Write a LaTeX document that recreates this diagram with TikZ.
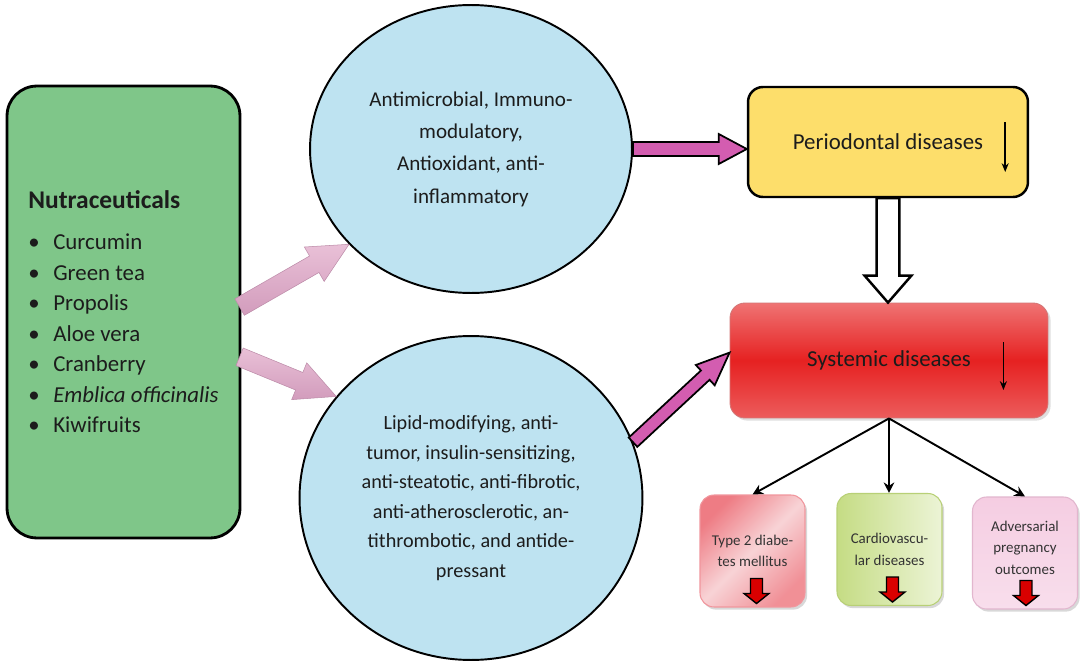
\documentclass[tikz,border=0pt]{standalone}
\usepackage{fontspec}
\setmainfont{Carlito}
\usetikzlibrary{shapes.geometric,calc,arrows.meta,shadows}
\definecolor{nutragreen}{HTML}{7FC689}
\definecolor{bubble}{HTML}{BEE3F1}
\definecolor{periyellow}{HTML}{FDDE6B}
\definecolor{magentaarrow}{HTML}{D35DB0}
\definecolor{pinkarrowA}{HTML}{E9C0D7}
\definecolor{pinkarrowB}{HTML}{D29CBC}
\definecolor{redtop}{HTML}{EF7373}
\definecolor{redmid}{HTML}{E62121}
\definecolor{redbot}{HTML}{EC5C5C}
\definecolor{inkcol}{HTML}{1C1C1C}
\definecolor{smallink}{HTML}{333333}
\definecolor{tdA}{HTML}{EE7C84}
\definecolor{tdB}{HTML}{F8D3D6}
\newcommand\bul{\makebox[14.2pt][l]{\textbullet}}
\newcommand\fatarrow[6]{%
  \path[#6] let \p1=(#1), \p2=(#2),
    \n1={atan2(\y2-\y1,\x2-\x1)}, \n2={veclen(\x2-\x1,\y2-\y1)} in
    ($(\p1)+({\n1+90}:#3)$) --
    ($(\p1)+(\n1:{\n2-#5})+({\n1+90}:#3)$) --
    ($(\p1)+(\n1:{\n2-#5})+({\n1+90}:#4)$) --
    (\p2) --
    ($(\p1)+(\n1:{\n2-#5})+({\n1-90}:#4)$) --
    ($(\p1)+(\n1:{\n2-#5})+({\n1-90}:#3)$) --
    ($(\p1)+({\n1-90}:#3)$) -- cycle;}
\begin{document}
\begin{tikzpicture}[x=0.02cm,y=-0.02cm,
  nutrabox/.style={draw=black, line width=1.6pt, fill=nutragreen, rounded corners=17pt,
    minimum width=4.66cm, minimum height=9.04cm, inner sep=0pt, align=left,
    text=inkcol, font=\fontsize{13}{17.4}\selectfont},
  bubblenode/.style={ellipse, draw=black, line width=1.1pt, fill=bubble, inner sep=0pt,
    align=center, text=inkcol},
  yellowbox/.style={draw=black, line width=1.4pt, fill=periyellow, rounded corners=8.5pt,
    minimum width=5.6cm, minimum height=2.2cm, text=inkcol, font=\fontsize{13}{15}\selectfont},
  redbox/.style={draw=redmid!80!black!60, line width=0.5pt, top color=redtop, bottom color=redbot,
    middle color=redmid, rounded corners=8.5pt, minimum width=6.36cm, minimum height=2.3cm,
    text=inkcol, font=\fontsize{13}{15}\selectfont,
    drop shadow={opacity=0.25, shadow xshift=1.5pt, shadow yshift=-1.5pt}},
  smallbox/.style={rounded corners=8pt, minimum width=2.1cm, minimum height=2.24cm,
    align=center, text=smallink, font=\fontsize{8.5}{12.2}\selectfont, line width=0.6pt,
    drop shadow={opacity=0.3, shadow xshift=1.2pt, shadow yshift=-1.5pt}},
  thinarrow/.style={draw=black, line width=1.1pt, -{Stealth[length=6pt,width=6pt]}},
  decline/.style={draw=black, line width=0.9pt, -{Stealth[length=5pt,width=4pt]}},
  pinkarrow/.style={top color=pinkarrowA, bottom color=pinkarrowB, draw=pinkarrowB!90!black, line width=0.3pt},
  magarrow/.style={fill=magentaarrow, draw=black, line width=1pt, line join=miter},
  hollowarrow/.style={fill=white, draw=black, line width=1.4pt, line join=miter},
  redblock/.style={fill=red!85!black, draw=black, line width=0.8pt, line join=miter}]

\useasboundingbox (0,0) rectangle (1080,666);
\fill[white] (0,0) rectangle (1080,666);

% main nodes
\node[nutrabox] (nutra) at (123.5,312) {%
  {\fontsize{14.5}{17.4}\selectfont\bfseries Nutraceuticals}\\[5.8pt]
  \bul Curcumin\\
  \bul Green tea\\
  \bul Propolis\\
  \bul Aloe vera\\
  \bul Cranberry\\
  \bul \textit{Emblica officinalis}\\
  \bul Kiwifruits};

\node[bubblenode, minimum width=6.44cm, minimum height=5.76cm,
  font=\fontsize{12}{18.4}\selectfont] (e1) at (471,149)
  {Antimicrobial, Immuno-\\modulatory,\\Antioxidant, anti-\\inflammatory};

\node[bubblenode, minimum width=6.86cm, minimum height=6.48cm,
  font=\fontsize{11.5}{16.8}\selectfont] (e2) at (471,498)
  {Lipid-modifying, anti-\\tumor, insulin-sensitizing,\\anti-steatotic, anti-fibrotic,\\anti-atherosclerotic, an-\\tithrombotic, and antide-\\pressant};

\node[yellowbox] (peri) at (888,142) {Periodontal diseases};
\node[redbox] (sys) at (889,360.5) {Systemic diseases};

\node[smallbox, draw=tdA!80!white, top color=tdA, bottom color=tdA!85!white,
  middle color=tdB, shading angle=45] (t2d) at (752.5,551) {Type 2 diabe-\\tes mellitus};
\node[smallbox, draw={rgb,255:red,184;green,208;blue,118}, left color={rgb,255:red,197;green,220;blue,132},
  right color={rgb,255:red,236;green,244;blue,214}] (cvd) at (889.5,549.5) {Cardiovascu-\\lar diseases};
\node[smallbox, draw={rgb,255:red,226;green,182;blue,206}, top color={rgb,255:red,245;green,205;blue,226},
  bottom color={rgb,255:red,248;green,222;blue,236}, text depth=6pt] (apo) at (1025,553) {Adversarial\\pregnancy\\outcomes};

% decrease markers inside boxes
\draw[decline] ($(peri.east)+(-24,-20)$) -- ++(0,50);
\draw[decline] ($(sys.east)+(-45,-18.5)$) -- ++(0,48);
\fatarrow{$(t2d.south)+(4,-29)$}{$(t2d.south)+(4,-4)$}{3.4pt}{7.1pt}{5.7pt}{redblock}
\fatarrow{$(cvd.south)+(3,-29)$}{$(cvd.south)+(3,-4)$}{3.4pt}{7.1pt}{5.7pt}{redblock}
\fatarrow{$(apo.south)+(1,-29)$}{$(apo.south)+(1,-4)$}{3.4pt}{7.1pt}{5.7pt}{redblock}

% connectors
\fatarrow{[xshift=-1pt,yshift=2.8pt]nutra.east}{e1.218}{5.4pt}{11.3pt}{22.7pt}{pinkarrow}
\fatarrow{[xshift=-1pt,yshift=-25.5pt]nutra.east}{e2.143}{5.4pt}{11.3pt}{22.7pt}{pinkarrow}
\fatarrow{e1.east}{e1.east -| peri.west}{4pt}{8.5pt}{15.9pt}{magarrow}
\fatarrow{e2.19}{[yshift=4.5pt]sys.west}{3.6pt}{7.9pt}{18.7pt}{magarrow}
\fatarrow{peri.south}{peri.south |- sys.north}{6.5pt}{13.3pt}{15.3pt}{hollowarrow}

\draw[thinarrow] (sys.south) -- (t2d.north);
\draw[thinarrow] (sys.south) -- (sys.south |- cvd.north);
\draw[thinarrow] (sys.south) -- (apo.north);
\end{tikzpicture}
\end{document}
